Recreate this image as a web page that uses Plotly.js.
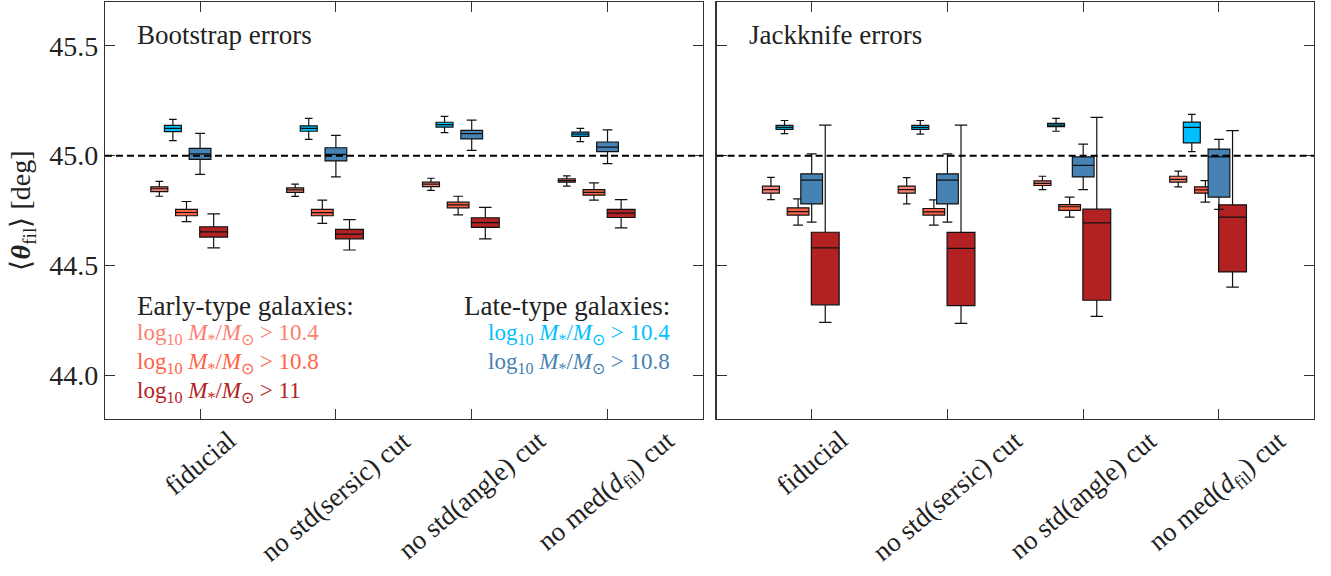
<!DOCTYPE html>
<html>
<head>
<meta charset="utf-8">
<script src="https://cdn.plot.ly/plotly-3.0.1.min.js"></script>
<style>html,body{margin:0;padding:0;background:#fff;}#chart{width:1331px;height:576px;}</style>
</head>
<body>
<div id="chart"></div>
<script>
// Categories (x tick labels)
const categories = ['fiducial', 'no std(sersic) cut', 'no std(angle) cut', 'no med(<i>d</i><sub>fil</sub>) cut'];
const tickValues = [44.0, 44.5, 45.0, 45.5];

// Each row: [lower whisker, Q1, median, Q3, upper whisker] per category
// Bootstrap errors
const bootEarly104 = [[44.815,44.836,44.849,44.858,44.883],[44.814,44.833,44.844,44.853,44.870],[44.842,44.859,44.870,44.879,44.897],[44.861,44.879,44.886,44.894,44.908]];
const bootEarly108 = [[44.699,44.726,44.741,44.755,44.791],[44.691,44.726,44.740,44.755,44.797],[44.730,44.762,44.776,44.788,44.815],[44.797,44.820,44.833,44.845,44.876]];
const bootEarly11  = [[44.580,44.629,44.653,44.676,44.735],[44.570,44.621,44.642,44.664,44.708],[44.621,44.673,44.695,44.717,44.764],[44.671,44.718,44.738,44.755,44.800]];
const bootLate104  = [[45.068,45.109,45.124,45.138,45.165],[45.074,45.111,45.124,45.136,45.170],[45.105,45.130,45.141,45.152,45.179],[45.064,45.088,45.098,45.107,45.124]];
const bootLate108  = [[44.915,44.983,45.008,45.033,45.101],[44.903,44.976,45.006,45.036,45.092],[45.024,45.076,45.100,45.115,45.162],[44.964,45.018,45.039,45.062,45.117]];
// Jackknife errors
const jackEarly104 = [[44.800,44.829,44.845,44.861,44.901],[44.780,44.829,44.845,44.861,44.900],[44.845,44.864,44.874,44.885,44.906],[44.858,44.879,44.892,44.906,44.929]];
const jackEarly108 = [[44.683,44.729,44.745,44.762,44.803],[44.683,44.729,44.744,44.759,44.798],[44.720,44.751,44.767,44.777,44.811],[44.788,44.829,44.844,44.858,44.886]];
const jackEarly11  = [[44.240,44.320,44.580,44.651,45.139],[44.236,44.317,44.577,44.650,45.139],[44.268,44.341,44.694,44.756,45.174],[44.401,44.470,44.720,44.776,45.114]];
const jackLate104  = [[45.100,45.120,45.129,45.138,45.160],[45.098,45.120,45.129,45.138,45.160],[45.111,45.132,45.139,45.147,45.170],[45.018,45.058,45.129,45.153,45.188]];
const jackLate108  = [[44.697,44.780,44.888,44.917,45.008],[44.697,44.780,44.888,44.917,45.008],[44.845,44.903,44.956,44.994,45.052],[44.755,44.811,44.994,45.030,45.074]];

const seriesLabels = ['log<sub>10</sub> <i>M</i><sub>*</sub>/<i>M</i><sub>⊙</sub> > 10.4',
                      'log<sub>10</sub> <i>M</i><sub>*</sub>/<i>M</i><sub>⊙</sub> > 10.8',
                      'log<sub>10</sub> <i>M</i><sub>*</sub>/<i>M</i><sub>⊙</sub> > 11'];

// styles
const FONT = 'Liberation Serif, Times New Roman, serif';
const series = [
  {key:'Early104', color:'#FA8072', offset:-0.3, width:0.125},
  {key:'Early108', color:'#FF6347', offset:-0.1, width:0.16},
  {key:'Early11',  color:'#B22222', offset: 0.1, width:0.205},
  {key:'Late104',  color:'#00BFFF', offset:-0.2, width:0.125},
  {key:'Late108',  color:'#4682B4', offset: 0.0, width:0.16}
];
const panels = [
  {xa:'x', ya:'y', data:{Early104:bootEarly104, Early108:bootEarly108, Early11:bootEarly11, Late104:bootLate104, Late108:bootLate108}},
  {xa:'x2', ya:'y2', data:{Early104:jackEarly104, Early108:jackEarly108, Early11:jackEarly11, Late104:jackLate104, Late108:jackLate108}}
];

const traces = [];
panels.forEach(p => {
  series.forEach(s => {
    const d = p.data[s.key];
    traces.push({
      type:'box', xaxis:p.xa, yaxis:p.ya,
      x: categories.map((c,i) => i + s.offset),
      lowerfence: d.map(r=>r[0]), q1: d.map(r=>r[1]), median: d.map(r=>r[2]),
      q3: d.map(r=>r[3]), upperfence: d.map(r=>r[4]),
      width: s.width, whiskerwidth: 0.45,
      fillcolor: s.color, line:{color:'#111', width:1.2},
      boxpoints:false, showlegend:false, hoverinfo:'skip'
    });
  });
});

const tickIdx = categories.map((c,i)=>i);
const xBase = {range:[-0.7,3.7], tickvals:tickIdx, ticktext:categories, showticklabels:false,
  ticks:'inside', ticklen:10, tickcolor:'#333', showline:true, linecolor:'#333', linewidth:1.2,
  mirror:'ticks', showgrid:false, zeroline:false, fixedrange:true};
const yBase = {range:[43.8,45.7], tickvals:tickValues, tickformat:'.1f',
  ticks:'inside', ticklen:10, tickcolor:'#333', showline:true, linecolor:'#333', linewidth:1.2,
  mirror:'ticks', showgrid:false, zeroline:false, tickfont:{family:FONT, size:28, color:'#222'}};

const annotations = [];
// panel titles
annotations.push({xref:'x domain', yref:'y domain', x:0.051, y:0.921, xanchor:'left', yanchor:'middle',
  text:'Bootstrap errors', showarrow:false, font:{family:FONT, size:27, color:'#222'}});
annotations.push({xref:'x2 domain', yref:'y2 domain', x:0.051, y:0.921, xanchor:'left', yanchor:'middle',
  text:'Jackknife errors', showarrow:false, font:{family:FONT, size:27, color:'#222'}});
// legend texts
const earlyColors = ['#FA8072','#FF6347','#B22222'];
const lateColors = ['#00BFFF','#4682B4'];
const rowY = [0.271, 0.204, 0.135, 0.065];
annotations.push({xref:'x domain', yref:'y domain', x:0.051, y:rowY[0], xanchor:'left', yanchor:'middle',
  text:'Early-type galaxies:', showarrow:false, font:{family:FONT, size:27, color:'#222'}});
seriesLabels.forEach((t,i)=>annotations.push({xref:'x domain', yref:'y domain', x:0.051, y:rowY[i+1], xanchor:'left', yanchor:'middle',
  text:t, showarrow:false, font:{family:FONT, size:23, color:earlyColors[i]}}));
annotations.push({xref:'x domain', yref:'y domain', x:0.949, y:rowY[0], xanchor:'right', yanchor:'middle',
  text:'Late-type galaxies:', showarrow:false, font:{family:FONT, size:27, color:'#222'}});
seriesLabels.slice(0,2).forEach((t,i)=>annotations.push({xref:'x domain', yref:'y domain', x:0.949, y:rowY[i+1], xanchor:'right', yanchor:'middle',
  text:t, showarrow:false, font:{family:FONT, size:23, color:lateColors[i]}}));
// rotated category labels (centered on ticks, like the original)
['x','x2'].forEach(xa => {
  categories.forEach((c,i)=>annotations.push({xref:xa, yref:'paper', x:i, y:-0.008, xanchor:'center', yanchor:'top',
    text:c, textangle:-40, showarrow:false, font:{family:FONT, size:27, color:'#222'}}));
});

const shapes = ['x','x2'].map((xa,k)=>({type:'line', xref:xa+' domain', yref:k?'y2':'y', x0:0, x1:1, y0:45, y1:45,
  line:{color:'#000', width:2, dash:'7px,4px'}, layer:'above'}));

const layout = {
  width:1331, height:576, margin:{l:105, r:17, t:2, b:157},
  paper_bgcolor:'#fff', plot_bgcolor:'#fff', boxmode:'overlay',
  xaxis:Object.assign({}, xBase, {domain:[0,0.4943], anchor:'y'}),
  xaxis2:Object.assign({}, xBase, {domain:[0.5059,1], anchor:'y2'}),
  yaxis:Object.assign({}, yBase, {anchor:'x', title:{text:'⟨<b><i>θ</i></b><sub>fil</sub>⟩ [deg]', font:{family:FONT, size:28, color:'#222'}, standoff:10}}),
  yaxis2:Object.assign({}, yBase, {anchor:'x2', showticklabels:false}),
  annotations:annotations, shapes:shapes, font:{family:FONT}
};
Plotly.newPlot('chart', traces, layout, {staticPlot:true, displayModeBar:false});
</script>
</body>
</html>
